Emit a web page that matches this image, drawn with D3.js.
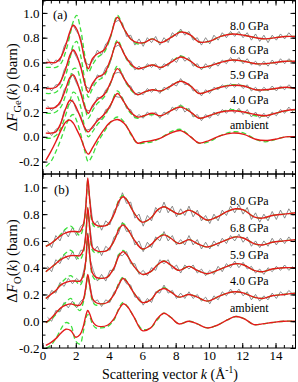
<!DOCTYPE html>
<html>
<head>
<meta charset="utf-8">
<script src="https://cdn.jsdelivr.net/npm/d3@7"></script>
<style>
  body { margin: 0; background: #fff; }
  svg { display: block; font-family: 'Liberation Serif', 'Times New Roman', serif; }
</style>
</head>
<body>
<svg id="chart" width="298" height="382"></svg>
<script>
const labels = ['ambient', '4.0 GPa', '5.9 GPa', '6.8 GPa', '8.0 GPa'];
const offsets = [0, 0.2, 0.4, 0.6, 0.8];

const x_ticks = [0, 2, 4, 6, 8, 10, 12, 14];
const ya_ticks = [-0.2, 0, 0.2, 0.4, 0.6, 0.8, 1.0];
const yb_ticks = [-0.2, 0, 0.2, 0.4, 0.6, 0.8, 1.0];

// ---- panel (a): Ge ----
const k_ge_fit = [0.2, 0.5, 0.8, 1.1, 1.4, 1.65, 1.85, 2.05, 2.3, 2.55, 2.75, 3.0, 3.3, 3.7, 4.1, 4.5, 4.9, 5.3, 5.7, 6.1, 6.6, 7.1, 7.7, 8.3, 8.9, 9.4, 10.0, 10.7, 11.4, 12.1, 12.8, 13.4, 14.0, 14.6, 15.2];
const ge_fit_amb = [-0.19,-0.12,-0.04,0.05,0.12,0.135,0.11,0.06,-0.01,-0.10,-0.14,-0.09,-0.02,0.06,0.12,0.14,0.11,0.03,-0.05,-0.04,-0.03,-0.01,0.03,0.05,0.0,-0.05,-0.03,0.01,0.03,0.02,-0.02,-0.03,-0.02,0.0,0.0];
const ge_fit_40 = [-0.17,-0.17,-0.16,-0.09,0.03,0.095,0.08,0.03,-0.05,-0.13,-0.16,-0.12,-0.07,-0.02,0.06,0.15,0.08,0.0,-0.04,-0.03,-0.01,-0.03,0.01,0.04,0.0,-0.05,-0.03,0.0,0.01,0.0,-0.02,-0.03,-0.01,0.01,0.02];
const ge_fit_59 = [-0.17,-0.17,-0.16,-0.11,-0.01,0.08,0.10,0.05,-0.05,-0.16,-0.21,-0.15,-0.10,-0.06,0.04,0.15,0.07,-0.01,-0.06,-0.04,-0.02,-0.03,0.01,0.048,0.01,-0.05,-0.03,0.0,0.015,0.01,-0.02,-0.02,-0.01,0.0,-0.01];
const ge_fit_68 = [-0.21,-0.21,-0.20,-0.15,-0.05,0.06,0.10,0.06,-0.04,-0.17,-0.24,-0.17,-0.12,-0.09,0.03,0.165,0.07,-0.01,-0.05,-0.04,-0.02,-0.04,0.0,0.044,0.01,-0.04,-0.03,0.0,0.02,0.01,-0.01,-0.01,0.0,0.01,0.01];
const ge_fit_80 = [-0.20,-0.20,-0.20,-0.16,-0.06,0.05,0.10,0.07,-0.03,-0.18,-0.25,-0.17,-0.13,-0.10,0.02,0.165,0.07,-0.01,-0.04,-0.04,-0.01,-0.04,0.0,0.045,0.02,-0.035,-0.03,0.01,0.03,0.02,0.0,-0.01,0.0,0.01,0.01];

const ge_alt_amb = [-0.24,-0.20,-0.12,-0.02,0.09,0.16,0.18,0.13,0.02,-0.12,-0.20,-0.15,-0.05,0.04,0.12,0.16,0.12,0.02,-0.05,-0.05,-0.04,-0.01,0.04,0.06,0.0,-0.05,-0.04,0.01,0.04,0.03,-0.02,-0.04,-0.02,0.0,0.0];
const ge_alt_40 = [-0.21,-0.21,-0.19,-0.13,-0.02,0.09,0.16,0.14,0.04,-0.13,-0.20,-0.16,-0.10,-0.04,0.06,0.17,0.08,-0.01,-0.05,-0.03,-0.02,-0.03,0.01,0.05,0.0,-0.05,-0.03,0.0,0.02,0.0,-0.03,-0.03,-0.01,0.01,0.02];
const ge_alt_59 = [-0.21,-0.21,-0.20,-0.16,-0.06,0.06,0.15,0.15,0.04,-0.15,-0.25,-0.19,-0.13,-0.08,0.04,0.17,0.07,-0.02,-0.06,-0.04,-0.02,-0.03,0.01,0.05,0.01,-0.05,-0.03,0.0,0.02,0.01,-0.02,-0.02,-0.01,0.0,-0.01];
const ge_alt_68 = [-0.25,-0.25,-0.24,-0.20,-0.10,0.03,0.14,0.17,0.05,-0.15,-0.28,-0.21,-0.15,-0.11,0.02,0.18,0.07,-0.02,-0.05,-0.04,-0.02,-0.04,0.0,0.05,0.01,-0.04,-0.03,0.0,0.02,0.01,-0.01,-0.01,0.0,0.01,0.01];
const ge_alt_80 = [-0.24,-0.24,-0.24,-0.21,-0.11,0.02,0.13,0.18,0.06,-0.15,-0.28,-0.22,-0.16,-0.12,0.01,0.18,0.07,-0.01,-0.05,-0.04,-0.01,-0.04,0.0,0.05,0.02,-0.035,-0.03,0.01,0.03,0.02,0.0,-0.01,0.0,0.01,0.01];

const k_ge_data = [0.3,0.55,0.8,1.05,1.3,1.55,1.8,2.05,2.3,2.55,2.8,3.05,3.3,3.55,3.8,4.05,4.3,4.55,4.8,5.05,5.3,5.55,5.8,6.05,6.3,6.55,6.8,7.05,7.3,7.55,7.8,8.05,8.3,8.55,8.8,9.05,9.3,9.55,9.8,10.05,10.3,10.55,10.8,11.05,11.3,11.55,11.8,12.05,12.3,12.55,12.8,13.05,13.3,13.55,13.8,14.05,14.3,14.55,14.8,15.05];
const ge_data_40 = [-0.15,-0.19,-0.14,-0.12,0.01,0.05,0.10,0.01,-0.03,-0.15,-0.14,-0.13,-0.05,-0.06,0.02,0.03,0.13,0.12,0.12,0.03,0.02,-0.05,-0.02,-0.05,0.0,-0.03,0.0,-0.05,0.0,-0.02,0.04,0.01,0.06,0.0,0.03,-0.04,-0.02,-0.07,-0.02,-0.05,0.0,-0.03,0.02,-0.01,0.03,-0.01,0.03,-0.02,0.02,-0.04,0.0,-0.05,-0.01,-0.05,0.0,-0.03,0.02,-0.01,0.04,0.0];
const ge_data_59 = [-0.15,-0.19,-0.15,-0.14,-0.02,0.03,0.11,0.03,-0.03,-0.18,-0.19,-0.16,-0.08,-0.09,-0.02,0.01,0.11,0.12,0.11,0.02,0.01,-0.06,-0.04,-0.06,-0.01,-0.04,-0.01,-0.05,0.0,-0.02,0.03,0.01,0.07,0.02,0.03,-0.03,-0.02,-0.07,-0.02,-0.05,0.0,-0.02,0.02,-0.01,0.03,0.0,0.03,-0.01,0.02,-0.03,0.0,-0.04,0.0,-0.03,0.01,-0.03,0.01,-0.02,0.02,-0.01];
const ge_data_68 = [-0.19,-0.23,-0.18,-0.18,-0.06,0.0,0.11,0.04,-0.02,-0.19,-0.21,-0.18,-0.10,-0.12,-0.04,-0.01,0.12,0.14,0.11,0.02,0.01,-0.06,-0.03,-0.06,-0.01,-0.04,-0.01,-0.06,-0.01,-0.03,0.03,0.0,0.06,0.01,0.04,-0.03,-0.01,-0.06,-0.01,-0.05,0.0,-0.03,0.02,-0.01,0.04,0.0,0.04,-0.01,0.03,-0.02,0.01,-0.03,0.01,-0.03,0.02,-0.02,0.03,-0.01,0.03,0.0];
const ge_data_80 = [-0.17,-0.22,-0.18,-0.19,-0.07,-0.01,0.11,0.05,0.0,-0.20,-0.22,-0.18,-0.10,-0.14,-0.05,-0.02,0.12,0.14,0.12,0.01,0.02,-0.06,-0.01,-0.07,0.0,-0.04,0.01,-0.06,0.0,-0.04,0.04,0.01,0.07,0.02,0.05,-0.02,0.0,-0.06,0.0,-0.05,0.02,-0.02,0.04,0.0,0.05,0.01,0.05,0.0,0.04,-0.02,0.03,-0.03,0.02,-0.04,0.02,-0.02,0.03,-0.01,0.04,0.0];

// ---- panel (b): O ----
const k_o_fit = [0.2, 0.5, 0.8, 1.1, 1.4, 1.7, 2.0, 2.25, 2.45, 2.6, 2.72, 2.85, 3.0, 3.2, 3.5, 3.9, 4.3, 4.6, 4.85, 5.1, 5.5, 6.0, 6.5, 6.9, 7.3, 7.7, 8.2, 8.8, 9.3, 9.9, 10.5, 11.1, 11.6, 12.1, 12.7, 13.2, 13.8, 14.5, 15.2];
const o_fit_amb = [-0.18,-0.16,-0.13,-0.09,-0.06,-0.07,-0.12,-0.10,-0.04,0.04,0.08,0.05,0.0,-0.03,-0.04,-0.03,0.02,0.09,0.13,0.11,0.03,-0.07,-0.05,0.02,0.06,0.03,-0.02,0.0,-0.02,-0.05,-0.03,0.01,0.035,0.02,-0.025,-0.02,-0.01,0.0,0.0];
const o_fit_40 = [-0.21,-0.18,-0.14,-0.10,-0.08,-0.07,-0.08,-0.08,-0.04,0.05,0.15,0.06,-0.03,-0.06,-0.07,-0.06,0.0,0.08,0.12,0.09,0.01,-0.06,-0.04,0.02,0.045,0.02,-0.02,0.0,-0.02,-0.05,-0.02,0.01,0.02,0.01,-0.02,-0.03,-0.01,0.0,0.01];
const o_fit_59 = [-0.23,-0.20,-0.17,-0.13,-0.11,-0.10,-0.10,-0.10,-0.06,0.05,0.25,0.08,-0.04,-0.07,-0.08,-0.07,0.0,0.09,0.12,0.09,0.01,-0.05,-0.03,0.02,0.05,0.02,-0.02,0.01,-0.02,-0.045,-0.02,0.01,0.03,0.02,-0.02,-0.03,-0.01,0.0,0.0];
const o_fit_68 = [-0.23,-0.20,-0.17,-0.14,-0.12,-0.11,-0.11,-0.11,-0.07,0.04,0.25,0.08,-0.05,-0.07,-0.08,-0.07,0.0,0.09,0.12,0.09,0.01,-0.06,-0.03,0.02,0.045,0.02,-0.02,0.01,-0.02,-0.045,-0.02,0.01,0.03,0.02,-0.02,-0.03,-0.01,0.0,0.01];
const o_fit_80 = [-0.24,-0.22,-0.19,-0.16,-0.14,-0.13,-0.13,-0.13,-0.08,0.05,0.27,0.09,-0.05,-0.08,-0.09,-0.08,0.0,0.10,0.13,0.10,0.01,-0.06,-0.03,0.03,0.055,0.03,0.0,0.03,0.0,-0.045,-0.02,0.02,0.04,0.03,-0.02,-0.03,-0.01,0.0,0.01];

const o_alt_amb = [-0.20,-0.18,-0.13,-0.06,-0.01,-0.03,-0.15,-0.17,-0.08,0.02,0.05,0.03,-0.02,-0.05,-0.05,-0.04,0.01,0.10,0.14,0.11,0.03,-0.06,-0.05,0.01,0.06,0.03,-0.02,0.0,-0.02,-0.05,-0.03,0.01,0.035,0.02,-0.025,-0.02,-0.01,0.0,0.0];
const o_alt_40 = [-0.21,-0.19,-0.15,-0.10,-0.06,-0.03,-0.09,-0.12,-0.06,0.04,0.13,0.05,-0.05,-0.08,-0.07,-0.06,0.0,0.09,0.13,0.09,0.01,-0.06,-0.04,0.02,0.05,0.02,-0.02,0.0,-0.02,-0.05,-0.02,0.01,0.02,0.01,-0.02,-0.03,-0.01,0.0,0.01];
const o_alt_59 = [-0.23,-0.20,-0.17,-0.12,-0.08,-0.06,-0.10,-0.13,-0.08,0.04,0.23,0.07,-0.06,-0.09,-0.08,-0.07,0.0,0.10,0.13,0.09,0.01,-0.05,-0.03,0.02,0.05,0.02,-0.02,0.01,-0.02,-0.045,-0.02,0.01,0.03,0.02,-0.02,-0.03,-0.01,0.0,0.0];
const o_alt_68 = [-0.23,-0.20,-0.17,-0.13,-0.09,-0.07,-0.11,-0.14,-0.09,0.03,0.23,0.07,-0.07,-0.09,-0.08,-0.07,0.0,0.10,0.13,0.09,0.01,-0.06,-0.03,0.02,0.05,0.02,-0.02,0.01,-0.02,-0.045,-0.02,0.01,0.03,0.02,-0.02,-0.03,-0.01,0.0,0.01];
const o_alt_80 = [-0.24,-0.22,-0.19,-0.15,-0.11,-0.09,-0.13,-0.16,-0.10,0.04,0.25,0.08,-0.07,-0.10,-0.09,-0.08,0.0,0.11,0.14,0.10,0.01,-0.06,-0.03,0.03,0.055,0.03,0.0,0.03,0.0,-0.045,-0.02,0.02,0.04,0.03,-0.02,-0.03,-0.01,0.0,0.01];

const k_o_data = [0.3,0.55,0.8,1.05,1.3,1.55,1.8,2.05,2.3,2.5,2.62,2.72,2.84,3.05,3.3,3.55,3.8,4.05,4.3,4.55,4.8,5.05,5.3,5.55,5.8,6.05,6.3,6.55,6.8,7.05,7.3,7.55,7.8,8.05,8.3,8.55,8.8,9.05,9.3,9.55,9.8,10.05,10.3,10.55,10.8,11.05,11.3,11.55,11.8,12.05,12.3,12.55,12.8,13.05,13.3,13.55,13.8,14.05,14.3,14.55,14.8,15.05];
const o_data_40 = [-0.17,-0.20,-0.12,-0.13,-0.06,-0.10,-0.05,-0.10,-0.05,-0.03,0.08,0.14,0.08,-0.06,-0.04,-0.09,-0.04,-0.06,0.02,0.05,0.13,0.08,0.07,-0.02,-0.02,-0.08,-0.03,-0.06,0.02,0.01,0.07,0.01,0.03,-0.03,0.01,-0.03,0.02,-0.03,0.0,-0.05,-0.02,-0.07,-0.01,-0.04,0.02,-0.01,0.04,0.0,0.04,-0.01,0.02,-0.04,0.0,-0.05,-0.01,-0.04,0.01,-0.03,0.02,-0.01,0.03,0.0];
const o_data_59 = [-0.24,-0.17,-0.19,-0.11,-0.14,-0.08,-0.12,-0.08,-0.11,-0.01,0.07,0.26,0.07,-0.02,-0.10,-0.05,-0.10,-0.02,-0.02,0.10,0.09,0.12,0.03,0.03,-0.05,-0.02,-0.06,0.0,-0.02,0.06,0.03,0.06,-0.01,0.02,-0.04,0.02,-0.01,0.02,-0.04,-0.01,-0.06,-0.02,-0.05,0.01,-0.03,0.03,0.0,0.05,0.0,0.04,-0.01,0.01,-0.04,-0.01,-0.05,0.0,-0.03,0.01,-0.02,0.02,-0.02,0.01];
const o_data_68 = [-0.19,-0.23,-0.14,-0.17,-0.10,-0.14,-0.08,-0.14,-0.07,-0.07,0.10,0.23,0.11,-0.08,-0.04,-0.11,-0.04,-0.07,0.03,0.05,0.14,0.07,0.08,-0.03,0.0,-0.08,-0.01,-0.05,0.03,0.0,0.07,0.0,0.04,-0.03,0.01,-0.03,0.04,-0.03,0.01,-0.06,-0.01,-0.06,0.0,-0.04,0.02,-0.02,0.04,0.0,0.05,-0.01,0.03,-0.04,0.0,-0.05,0.0,-0.04,0.02,-0.03,0.02,-0.02,0.03,-0.01];
const o_data_80 = [-0.20,-0.25,-0.16,-0.20,-0.12,-0.17,-0.10,-0.16,-0.09,-0.07,0.11,0.25,0.12,-0.09,-0.05,-0.12,-0.05,-0.08,0.03,0.06,0.16,0.08,0.09,-0.03,0.0,-0.09,-0.01,-0.05,0.05,0.01,0.09,0.01,0.06,-0.02,0.04,-0.01,0.06,-0.02,0.03,-0.05,-0.01,-0.07,0.0,-0.05,0.03,-0.01,0.06,0.01,0.07,0.0,0.05,-0.04,0.01,-0.06,0.0,-0.05,0.02,-0.04,0.03,-0.03,0.04,-0.01];

const ge_fit = [ge_fit_amb, ge_fit_40, ge_fit_59, ge_fit_68, ge_fit_80];
const ge_alt = [ge_alt_amb, ge_alt_40, ge_alt_59, ge_alt_68, ge_alt_80];
const ge_data = [null, ge_data_40, ge_data_59, ge_data_68, ge_data_80];
const o_fit = [o_fit_amb, o_fit_40, o_fit_59, o_fit_68, o_fit_80];
const o_alt = [o_alt_amb, o_alt_40, o_alt_59, o_alt_68, o_alt_80];
const o_data = [null, o_data_40, o_data_59, o_data_68, o_data_80];

const colors = {fit: '#e41a1a', alt: '#3de03d', data: '#707070'};

const svg = d3.select('#chart');
const xS = d3.scaleLinear().domain([0, 15.2]).range([42.5, 295.5]);
const yA = d3.scaleLinear().domain([-0.3, 1.1]).range([174, 0.5]);
const yB = d3.scaleLinear().domain([-0.2, 1.1]).range([348, 174]);

const drawCurves = (g, yS, id, kFit, fits, alts, kData, datas, labelShift) => {
    const [y0, y1] = yS.range();
    svg.append('clipPath').attr('id', id)
      .append('rect')
      .attr('x', xS.range()[0]).attr('y', y1)
      .attr('width', xS.range()[1] - xS.range()[0]).attr('height', y0 - y1);

    const body = g.append('g').attr('clip-path', `url(#${id})`);
    const raw = d3.line().x(d => xS(d[0])).y(d => yS(d[1]));
    const smooth = d3.line().curve(d3.curveCatmullRom.alpha(0.5)).x(d => xS(d[0])).y(d => yS(d[1]));

    datas.forEach((vals, i) => {
        if (!vals) return;
        body.append('path')
          .datum(kData.map((k, j) => [k, vals[j] + offsets[i]]))
          .attr('d', raw)
          .attr('fill', 'none').attr('stroke', colors.data).attr('stroke-width', 0.8);
    });
    alts.forEach((vals, i) => {
        body.append('path')
          .datum(kFit.map((k, j) => [k, vals[j] + offsets[i]]))
          .attr('d', smooth)
          .attr('fill', 'none').attr('stroke', colors.alt).attr('stroke-width', 1.3)
          .attr('stroke-dasharray', '5,3');
    });
    fits.forEach((vals, i) => {
        body.append('path')
          .datum(kFit.map((k, j) => [k, vals[j] + offsets[i]]))
          .attr('d', smooth)
          .attr('fill', 'none').attr('stroke', colors.fit).attr('stroke-width', 1.4);
    });

    g.selectAll('.plabel').data(labels)
      .join('text')
      .attr('class', 'plabel')
      .attr('x', 230)
      .attr('y', (d, i) => yS(offsets[i]) - labelShift)
      .attr('font-size', 12)
      .text(d => d);
}

const drawFrame = (g, yS, yTicks, showX) => {
    const [y0, y1] = yS.range();
    const [x0, x1] = xS.range();
    const yMinor = d3.range(Math.round(yS.domain()[0] * 10), Math.round(yS.domain()[1] * 10) + 1).map(v => v / 10);
    const xMinor = d3.range(0, 31).map(v => v / 2);

    const put = (axis, tr) => g.append('g')
      .attr('transform', tr)
      .call(axis)
      .call(s => s.select('.domain').remove())
      .attr('font-family', null)
      .attr('font-size', 13);

    put(d3.axisLeft(yS).tickValues(yMinor).tickSizeInner(-3).tickSizeOuter(0).tickFormat(''), `translate(${x0},0)`);
    put(d3.axisLeft(yS).tickValues(yTicks).tickSizeInner(-5).tickSizeOuter(0).tickPadding(3)
      .tickFormat(d => d.toFixed(1)), `translate(${x0},0)`);
    put(d3.axisRight(yS).tickValues(yMinor).tickSizeInner(-3).tickSizeOuter(0).tickFormat(''), `translate(${x1},0)`);
    put(d3.axisRight(yS).tickValues(yTicks).tickSizeInner(-5).tickSizeOuter(0).tickFormat(''), `translate(${x1},0)`);

    put(d3.axisTop(xS).tickValues(xMinor).tickSizeInner(-3).tickSizeOuter(0).tickFormat(''), `translate(0,${y1})`);
    put(d3.axisTop(xS).tickValues(x_ticks).tickSizeInner(-5).tickSizeOuter(0).tickFormat(''), `translate(0,${y1})`);
    put(d3.axisBottom(xS).tickValues(xMinor).tickSizeInner(-3).tickSizeOuter(0).tickFormat(''), `translate(0,${y0})`);
    put(d3.axisBottom(xS).tickValues(x_ticks).tickSizeInner(-5).tickSizeOuter(0).tickPadding(3)
      .tickFormat(showX ? d3.format('d') : ''), `translate(0,${y0})`);

    g.append('rect')
      .attr('x', x0).attr('y', y1)
      .attr('width', x1 - x0).attr('height', y0 - y1)
      .attr('fill', 'none').attr('stroke', '#000').attr('stroke-width', 1);
}

const gA = svg.append('g');
const gB = svg.append('g');

drawCurves(gA, yA, 'clip-a', k_ge_fit, ge_fit, ge_alt, k_ge_data, ge_data, 8);
drawFrame(gA, yA, ya_ticks, false);
drawCurves(gB, yB, 'clip-b', k_o_fit, o_fit, o_alt, k_o_data, o_data, 9);
drawFrame(gB, yB, yb_ticks, true);

gA.append('text').attr('x', 53).attr('y', 19).attr('font-size', 13).text('(a)');
gB.append('text').attr('x', 54).attr('y', 194).attr('font-size', 13).text('(b)');

// axis titles
const yTitle = (cy, sub) => {
    const t = svg.append('text')
      .attr('transform', `translate(17,${cy}) rotate(-90)`)
      .attr('text-anchor', 'middle')
      .attr('font-size', 15);
    t.append('tspan').text('\u0394');
    t.append('tspan').attr('font-style', 'italic').text('F');
    t.append('tspan').attr('font-size', 10.5).attr('dy', 4).text(sub);
    t.append('tspan').attr('dy', -4).text('(');
    t.append('tspan').attr('font-style', 'italic').text('k');
    t.append('tspan').text(') (barn)');
}
yTitle(yA(0.4), 'Ge');
yTitle(yB(0.45), 'O');

const xt = svg.append('text')
  .attr('x', 170).attr('y', 379)
  .attr('text-anchor', 'middle')
  .attr('font-size', 14);
xt.append('tspan').text('Scattering vector ');
xt.append('tspan').attr('font-style', 'italic').text('k');
xt.append('tspan').text(' (\u00c5');
xt.append('tspan').attr('font-size', 9.5).attr('dy', -6).text('-1');
xt.append('tspan').attr('dy', 6).text(')');
</script>
</body>
</html>
